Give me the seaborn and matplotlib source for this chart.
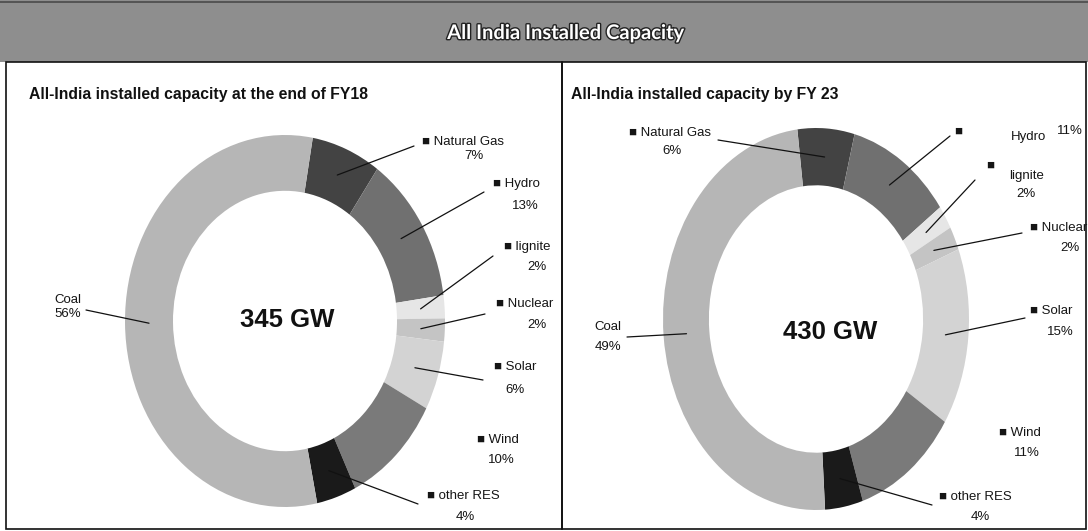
import matplotlib
matplotlib.use("Agg")
import matplotlib.pyplot as plt
import matplotlib.patheffects as pe
from matplotlib.patches import Rectangle
from matplotlib.lines import Line2D
from matplotlib import font_manager
import seaborn as sns
import numpy as np

sns.set_theme(style="white")

installed = {f.name for f in font_manager.fontManager.ttflist}
NARROW = "Liberation Sans Narrow" if "Liberation Sans Narrow" in installed else "Liberation Sans"
plt.rcParams["font.family"] = ["Liberation Sans", "DejaVu Sans"]

W, H = 1088, 531

# data
sources = ["Natural Gas", "Hydro", "lignite", "Nuclear", "Solar", "Wind", "other RES", "Coal"]
share_fy18 = [7, 13, 2, 2, 6, 10, 4, 56]
share_fy23 = [6, 11, 2, 2, 15, 11, 4, 49]
total_fy18 = "345 GW"
total_fy23 = "430 GW"
titre = "All India Installed Capacity"
sous_titre_fy18 = "All-India installed capacity at the end of FY18"
sous_titre_fy23 = "All-India installed capacity by FY 23"

greys = ["#434343", "#707070", "#e6e6e6", "#c4c4c4", "#d3d3d3", "#7a7a7a", "#1a1a1a", "#b6b6b6"]

fig = plt.figure(figsize=(W / 100, H / 100), dpi=100)
fig.patch.set_facecolor("white")


def px(x, y):
    # pixels depuis le coin haut-gauche -> coordonnées figure
    return x / W, 1 - y / H


# bandeau titre
fig.patches.append(Rectangle((0, 1 - 62 / H), 1, 62 / H, transform=fig.transFigure,
                             facecolor="#8e8e8e", edgecolor="none", zorder=0))
fig.lines.append(Line2D([0, 1], [1 - 2 / H, 1 - 2 / H], transform=fig.transFigure, color="#4a4a4a", lw=1.2))
t = fig.text(*px(566, 33), titre, ha="center", va="center", color="white",
             fontsize=14.5, fontweight="bold", family=["Lato", "DejaVu Sans"])
t.set_path_effects([pe.withStroke(linewidth=2, foreground="#222222")])

# cadres des deux panneaux
for x0, x1 in [(6, 562), (562, 1086)]:
    fig.patches.append(Rectangle(px(x0, 529), (x1 - x0) / W, (529 - 62) / H, transform=fig.transFigure,
                                 facecolor="none", edgecolor="#111111", lw=1.2, zorder=1))

panneaux = [
    dict(values=share_fy18, total=total_fy18, sub=sous_titre_fy18, sub_xy=(29, 94),
         cx=285, cy=321, rx=160, ry=186, start=80, center_xy=(287, 320),
         labels={
             "Natural Gas": dict(l1=(463, 142), l2=(474, 156), lead=(414, 146)),
             "Hydro": dict(l1=(516, 184), l2=(525, 206), lead=(484, 192)),
             "lignite": dict(l1=(527, 247), l2=(537, 267), lead=(493, 256)),
             "Nuclear": dict(l1=(525, 304), l2=(537, 325), lead=(485, 314)),
             "Solar": dict(l1=(515, 367), l2=(515, 390), lead=(483, 380)),
             "Wind": dict(l1=(498, 440), l2=(501, 460), lead=None),
             "other RES": dict(l1=(463, 496), l2=(465, 517), lead=(418, 504)),
             "Coal": dict(l1=(68, 300), l2=(68, 314), lead=(86, 310), nomark=True),
         }),
    dict(values=share_fy23, total=total_fy23, sub=sous_titre_fy23, sub_xy=(571, 95),
         cx=816, cy=319, rx=153, ry=191, start=97, center_xy=(830, 332),
         labels={
             "Natural Gas": dict(l1=(670, 133), l2=(672, 151), lead=(718, 140)),
             "Hydro": dict(l1=(1028, 137), l2=(1070, 131), lead=(950, 136), mark=(958, 132)),
             "lignite": dict(l1=(1027, 176), l2=(1026, 194), lead=(975, 180), mark=(990, 166)),
             "Nuclear": dict(l1=(1059, 228), l2=(1070, 248), lead=(1022, 233)),
             "Solar": dict(l1=(1051, 311), l2=(1060, 332), lead=(1025, 318)),
             "Wind": dict(l1=(1020, 433), l2=(1027, 453), lead=None),
             "other RES": dict(l1=(975, 497), l2=(980, 517), lead=(932, 505)),
             "Coal": dict(l1=(608, 327), l2=(608, 347), lead=(627, 337), nomark=True),
         }),
]

largeur = 0.3
for p in panneaux:
    x0, y0 = px(p["cx"] - p["rx"], p["cy"] + p["ry"])
    ax = fig.add_axes([x0, y0, 2 * p["rx"] / W, 2 * p["ry"] / H])
    wedges, _ = ax.pie(p["values"], colors=greys, startangle=p["start"], counterclock=False,
                       radius=1, wedgeprops=dict(width=largeur, edgecolor="none"))
    ax.set_xlim(-1, 1)
    ax.set_ylim(-1, 1)
    ax.set_aspect("auto")
    ax.axis("off")

    fig.text(*px(*p["center_xy"]), p["total"], ha="center", va="center",
             fontsize=18.5, fontweight="bold", family=[NARROW, "DejaVu Sans"], color="#111111")
    fig.text(*px(*p["sub_xy"]), p["sub"], ha="left", va="center", fontsize=11.3,
             fontweight="bold", family=[NARROW, "DejaVu Sans"], color="#111111")

    for nom, w in zip(sources, wedges):
        lab = p["labels"][nom]
        pct = p["values"][sources.index(nom)]
        if lab.get("nomark") or "mark" in lab:
            ligne1 = nom
        else:
            ligne1 = "\u25a0 " + nom
        fig.text(*px(*lab["l1"]), ligne1, ha="center", va="center", fontsize=9.5, color="#151515")
        fig.text(*px(*lab["l2"]), f"{pct}%", ha="center", va="center", fontsize=9.5, color="#151515")
        if "mark" in lab:
            fig.text(*px(*lab["mark"]), "\u25a0", ha="center", va="center", fontsize=9.5, color="#151515")
        if lab["lead"] is not None:
            mid = np.deg2rad((w.theta1 + w.theta2) / 2)
            r = 1 - largeur / 2
            ax.annotate("", xy=(r * np.cos(mid), r * np.sin(mid)), xycoords="data",
                        xytext=(lab["lead"][0], H - lab["lead"][1]), textcoords="figure pixels",
                        arrowprops=dict(arrowstyle="-", lw=0.9, color="#111111",
                                        shrinkA=0, shrinkB=0),
                        annotation_clip=False)

plt.savefig("out.png", dpi=100)
plt.close()
